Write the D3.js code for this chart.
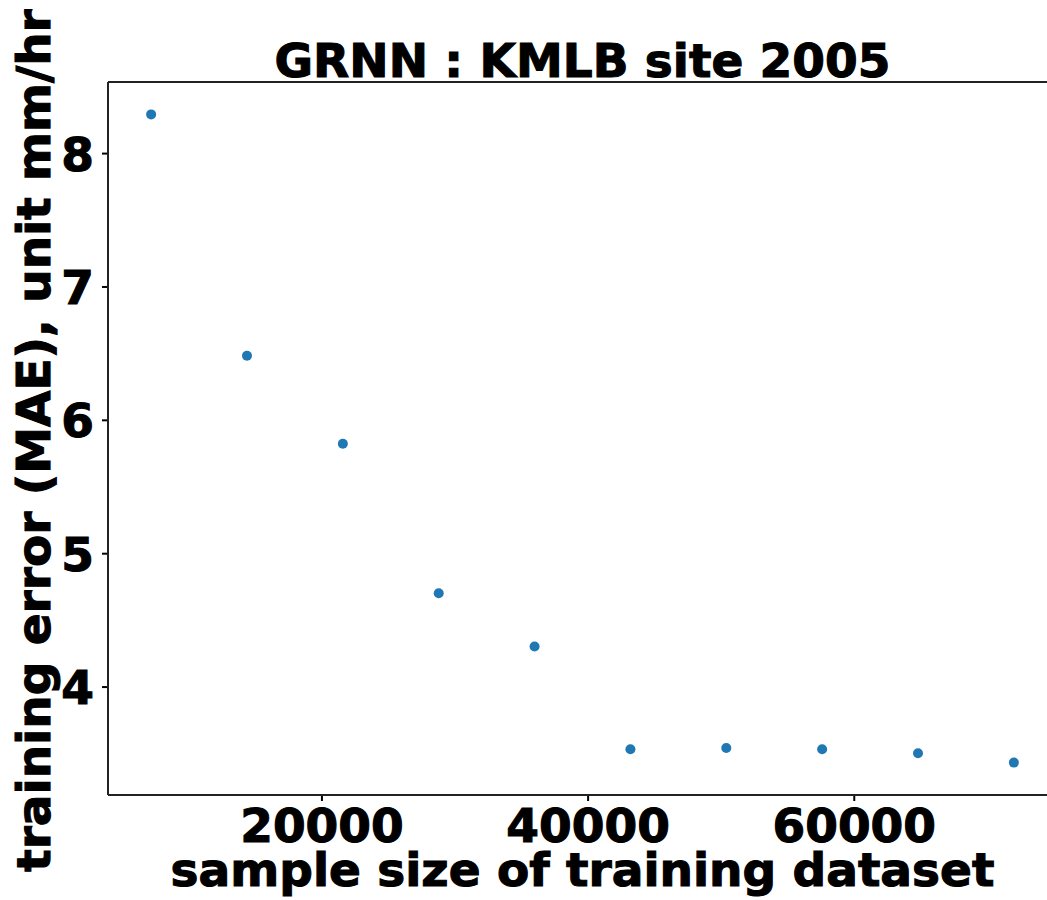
<!DOCTYPE html>
<html>
<head>
<meta charset="utf-8">
<script src="https://cdn.jsdelivr.net/npm/d3@7"></script>
<style>
  html, body { margin: 0; padding: 0; background: #fff; }
  svg { display: block; }
  text { font-family: "DejaVu Sans", sans-serif; font-weight: bold; fill: #000; stroke: #000; stroke-width: 1.1px; }
</style>
</head>
<body>
<svg id="chart" width="1047" height="900"></svg>
<script>
// Training-set sizes and the resulting GRNN training error (MAE, mm/hr)
const sampleSizes = [7203, 14406, 21609, 28812, 36015, 43218, 50421, 57624, 64827, 72030];
const maeValues   = [8.29, 6.48, 5.82, 4.70, 4.30, 3.53, 3.54, 3.53, 3.50, 3.43];
const xTickValues = [20000, 40000, 60000];
const yTickValues = [4, 5, 6, 7, 8];

const titleText  = "GRNN : KMLB site 2005";
const xLabelText = "sample size of training dataset";
const yLabelText = "training error (MAE), unit mm/hr";

const W = 1047, H = 900;
const plot = { left: 108, right: 1057, top: 82, bottom: 795 };
const FONT = 47;

// 5% padding around the data range on both axes
function padded(values) {
  const lo = d3.min(values), hi = d3.max(values), m = (hi - lo) * 0.05;
  return [lo - m, hi + m];
}

const x = d3.scaleLinear().domain(padded(sampleSizes)).range([plot.left, plot.right]);
const y = d3.scaleLinear().domain(padded(maeValues)).range([plot.bottom, plot.top]);

const svg = d3.select("#chart");

// Points
svg.append("g")
  .selectAll("circle")
  .data(sampleSizes.map((s, i) => ({ s, v: maeValues[i] })))
  .join("circle")
  .attr("cx", d => x(d.s))
  .attr("cy", d => y(d.v))
  .attr("r", 5)
  .attr("fill", "#1f77b4");

// Axes
const xAxis = svg.append("g")
  .attr("transform", `translate(0,${plot.bottom})`)
  .call(d3.axisBottom(x).tickValues(xTickValues).tickFormat(d3.format("d")).tickSize(6).tickPadding(8));

const yAxis = svg.append("g")
  .attr("transform", `translate(${plot.left},0)`)
  .call(d3.axisLeft(y).tickValues(yTickValues).tickFormat(d3.format("d")).tickSize(6).tickPadding(8));

[xAxis, yAxis].forEach(g => {
  g.select(".domain").remove();
  g.selectAll(".tick line").attr("stroke", "#000").attr("stroke-width", 2);
  g.selectAll(".tick text")
    .attr("font-size", FONT)
    .attr("font-family", "DejaVu Sans, sans-serif")
    .attr("font-weight", "bold")
    .attr("fill", "#000")
    .attr("stroke", "#000")
    .attr("stroke-width", 1.1);
});
xAxis.selectAll(".tick text").attr("dy", "0.71em");
yAxis.selectAll(".tick text").attr("dy", "0.36em");

// Spines: left, top and bottom (the right edge falls outside the page)
const spine = svg.append("g").attr("stroke", "#222").attr("stroke-width", 2).attr("fill", "none");
spine.append("line").attr("x1", plot.left).attr("x2", plot.left).attr("y1", plot.top).attr("y2", plot.bottom);
spine.append("line").attr("x1", plot.left).attr("x2", plot.right).attr("y1", plot.top).attr("y2", plot.top);
spine.append("line").attr("x1", plot.left).attr("x2", plot.right).attr("y1", plot.bottom).attr("y2", plot.bottom);

// Title and axis labels
const cx = (plot.left + plot.right) / 2;
const cy = (plot.top + plot.bottom) / 2;

svg.append("text")
  .attr("x", cx).attr("y", 77)
  .attr("text-anchor", "middle")
  .attr("font-size", FONT)
  .text(titleText);

svg.append("text")
  .attr("x", cx).attr("y", 886)
  .attr("text-anchor", "middle")
  .attr("font-size", FONT)
  .text(xLabelText);

svg.append("text")
  .attr("transform", `translate(50,${cy + 2}) rotate(-90)`)
  .attr("text-anchor", "middle")
  .attr("font-size", FONT)
  .text(yLabelText);
</script>
</body>
</html>
